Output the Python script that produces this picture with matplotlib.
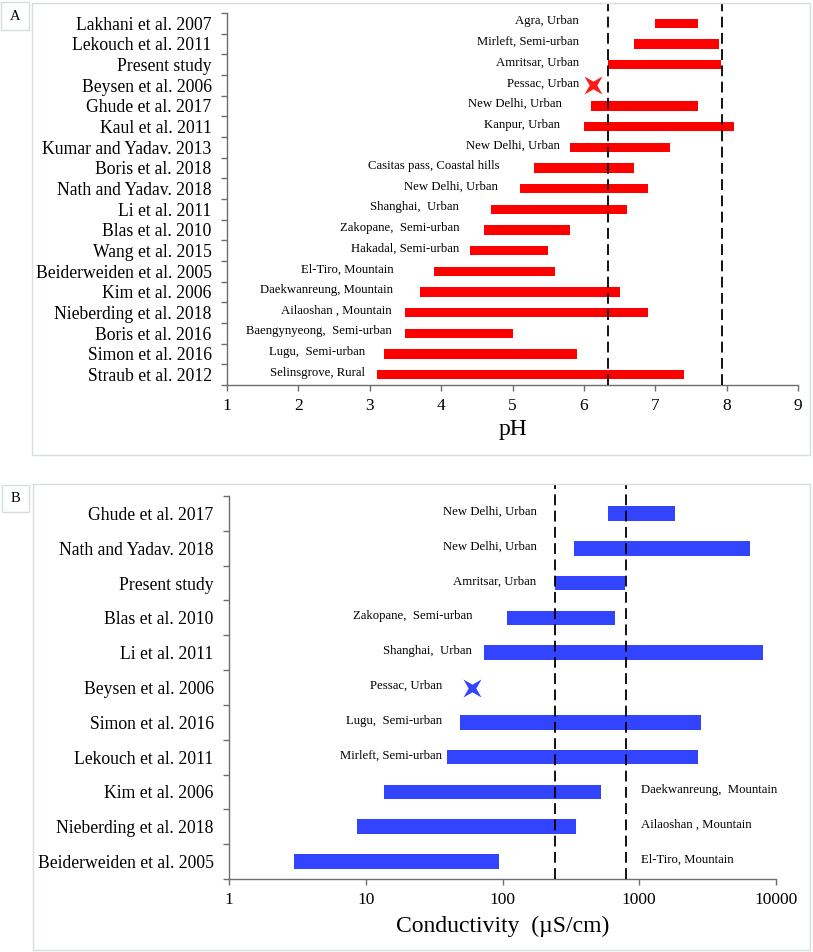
import matplotlib
matplotlib.use("Agg")
import matplotlib.pyplot as plt
from matplotlib.patches import Rectangle
from matplotlib.path import Path
import numpy as np

plt.rcParams['font.family'] = ['Liberation Serif', 'DejaVu Serif']

# ---------------- data: panel A (pH) ----------------
ph_studies = ["Lakhani et al. 2007", "Lekouch et al. 2011", "Present study", "Beysen et al. 2006",
              "Ghude et al. 2017", "Kaul et al. 2011", "Kumar and Yadav. 2013", "Boris et al. 2018",
              "Nath and Yadav. 2018", "Li et al. 2011", "Blas et al. 2010", "Wang et al. 2015",
              "Beiderweiden et al. 2005", "Kim et al. 2006", "Nieberding et al. 2018", "Boris et al. 2016",
              "Simon et al. 2016", "Straub et al. 2012"]
ph_sites = ["Agra, Urban", "Mirleft, Semi-urban", "Amritsar, Urban", "Pessac, Urban",
            "New Delhi, Urban", "Kanpur, Urban", "New Delhi, Urban", "Casitas pass, Coastal hills",
            "New Delhi, Urban", "Shanghai,  Urban", "Zakopane,  Semi-urban", "Hakadal, Semi-urban",
            "El-Tiro, Mountain", "Daekwanreung, Mountain", "Ailaoshan , Mountain", "Baengynyeong,  Semi-urban",
            "Lugu,  Semi-urban", "Selinsgrove, Rural"]
ph_low = [7.0, 6.7, 6.34, 6.13, 6.1, 6.0, 5.8, 5.3, 5.1, 4.7, 4.6, 4.4, 3.9, 3.7, 3.5, 3.5, 3.2, 3.1]
ph_high = [7.6, 7.9, 7.92, 6.13, 7.6, 8.1, 7.2, 6.7, 6.9, 6.6, 5.8, 5.5, 5.6, 6.5, 6.9, 5.0, 5.9, 7.4]
ph_ref = [6.34, 7.93]
ph_ticks = [1, 2, 3, 4, 5, 6, 7, 8, 9]

# ---------------- data: panel B (conductivity) ----------------
ec_studies = ["Ghude et al. 2017", "Nath and Yadav. 2018", "Present study", "Blas et al. 2010",
              "Li et al. 2011", "Beysen et al. 2006", "Simon et al. 2016", "Lekouch et al. 2011",
              "Kim et al. 2006", "Nieberding et al. 2018", "Beiderweiden et al. 2005"]
ec_sites = ["New Delhi, Urban", "New Delhi, Urban", "Amritsar, Urban", "Zakopane,  Semi-urban",
            "Shanghai,  Urban", "Pessac, Urban", "Lugu,  Semi-urban", "Mirleft, Semi-urban",
            "Daekwanreung,  Mountain", "Ailaoshan , Mountain", "El-Tiro, Mountain"]
ec_low = [590, 335, 242, 108, 73, 60, 49, 39, 13.5, 8.6, 3.0]
ec_high = [1830, 6500, 790, 670, 8100, 60, 2820, 2680, 525, 345, 94]
ec_ref = [242, 800]
ec_ticks = [1, 10, 100, 1000, 10000]

# ---------------- layout (not data) ----------------
ph_label_x = [5.93, 5.93, 5.93, 5.93, 5.69, 5.67, 5.67, 4.82, 4.80, 4.25, 4.26, 4.25,
              3.34, 3.33, 3.30, 3.31, 2.93, 2.93]
ph_label_ha = ['right'] * 18
ec_label_x = [177, 177, 177, 60, 60, 36.5, 36, 36, 1030, 1030, 1030]
ec_label_ha = ['right'] * 8 + ['left'] * 3

W, H = 813, 952
fig = plt.figure(figsize=(W / 100, H / 100), dpi=100)

frame_col = '#d6dfdf'
spine_col = '#6e6e6e'

# thin tapered X marker shape
_ang = np.deg2rad(45 + 45 * np.arange(8))
_rad = np.where(np.arange(8) % 2 == 0, 1.0, 0.3)
_verts = np.column_stack([_rad * np.cos(_ang), _rad * np.sin(_ang)])
_verts = np.vstack([_verts, _verts[:1]])
x_marker = Path(_verts, [Path.MOVETO] + [Path.LINETO] * 7 + [Path.CLOSEPOLY])


def fx(px):
    return px / W


def fy(py):
    return 1 - py / H


def add_frame(x0, y0, x1, y1):
    fig.add_artist(Rectangle((fx(x0), fy(y1)), fx(x1) - fx(x0), fy(y0) - fy(y1),
                             transform=fig.transFigure, fill=False, edgecolor=frame_col, lw=1.0))


# panel frames and letter boxes
add_frame(32, 3, 810, 455)
add_frame(1, 2, 29, 30)
fig.text(fx(15), fy(16), "A", ha='center', va='center', fontsize=10.5)
add_frame(33, 484, 810, 950)
add_frame(2, 485, 29, 512)
fig.text(fx(15.5), fy(498), "B", ha='center', va='center', fontsize=10.5)


def style_axes(ax, n):
    for s in ['top', 'right']:
        ax.spines[s].set_visible(False)
    for s in ['left', 'bottom']:
        ax.spines[s].set_color(spine_col)
        ax.spines[s].set_linewidth(1.0)
    ax.set_ylim(n - 0.5, -0.5)
    ax.set_yticks(np.arange(n))
    ax.set_yticks(np.arange(n + 1) - 0.5, minor=True)
    ax.tick_params(axis='y', which='major', length=0, labelsize=12.7, pad=11)
    ax.tick_params(axis='y', which='minor', length=4, color=spine_col, width=1)
    ax.tick_params(axis='x', which='major', length=4, color=spine_col, width=1,
                   labelsize=12.5, pad=5)
    ax.tick_params(axis='x', which='minor', length=0)
    ax.set_facecolor('none')


# ---------------- panel A ----------------
axA = fig.add_axes([fx(227), fy(385), fx(798) - fx(227), fy(13) - fy(385)])
nA = len(ph_studies)
style_axes(axA, nA)
yA = np.arange(nA)
lowA = np.array(ph_low)
highA = np.array(ph_high)
rng = highA > lowA
axA.barh(yA[rng], (highA - lowA)[rng], left=lowA[rng], height=0.45, color='#ff0000', zorder=2)
axA.plot(lowA[~rng], yA[~rng], linestyle='none', marker=x_marker, markersize=13,
         color='#ff1a1a', markeredgewidth=0, zorder=3)
for v in ph_ref:
    axA.axvline(v, ymin=0, ymax=1.027, color='black', lw=1.3, linestyle=(0, (6, 3)),
                clip_on=False, zorder=4)
for i in range(nA):
    axA.text(ph_label_x[i], yA[i] - 0.1, ph_sites[i], ha=ph_label_ha[i], va='center',
             fontsize=9.2, zorder=5)
axA.set_xlim(1, 9)
axA.set_xticks(ph_ticks)
axA.set_xticklabels([str(t) for t in ph_ticks])
axA.set_yticklabels(ph_studies)
axA.set_xlabel("pH", fontsize=17, labelpad=4)

# ---------------- panel B ----------------
axB = fig.add_axes([fx(229), fy(879), fx(776) - fx(229), fy(496) - fy(879)])
nB = len(ec_studies)
style_axes(axB, nB)
axB.set_xscale('log')
yB = np.arange(nB)
lowB = np.array(ec_low)
highB = np.array(ec_high)
rngB = highB > lowB
axB.barh(yB[rngB], (highB - lowB)[rngB], left=lowB[rngB], height=0.42, color='#3344ff', zorder=2)
axB.plot(lowB[~rngB], yB[~rngB], linestyle='none', marker=x_marker, markersize=13,
         color='#3344ff', markeredgewidth=0, zorder=3)
for v in ec_ref:
    axB.axvline(v, ymin=0, ymax=1.031, color='black', lw=1.3, linestyle=(0, (6, 3)),
                clip_on=False, zorder=4)
for i in range(nB):
    axB.text(ec_label_x[i], yB[i] - 0.05, ec_sites[i], ha=ec_label_ha[i], va='center',
             fontsize=9.2, zorder=5)
axB.set_xlim(1, 10000)
axB.set_xticks(ec_ticks)
axB.set_xticklabels([str(t) for t in ec_ticks])
axB.xaxis.set_minor_locator(matplotlib.ticker.NullLocator())
axB.set_yticklabels(ec_studies)
axB.set_xlabel("Conductivity  (\u00b5S/cm)", fontsize=17, labelpad=6)

fig.savefig("out.png", dpi=100)
